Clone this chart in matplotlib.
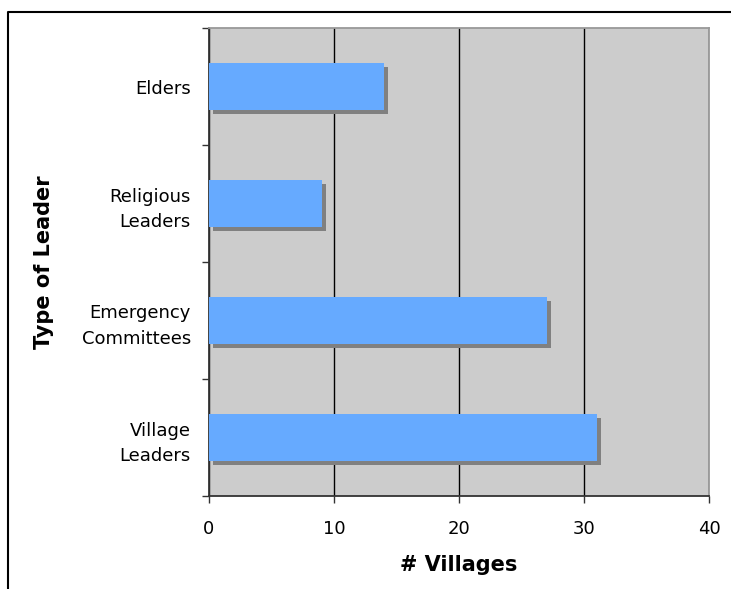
import matplotlib.pyplot as plt
import matplotlib.patheffects as pe
from matplotlib.lines import Line2D
import numpy as np

# Number of villages citing each type of leader (bottom to top)
leader_types = ['Village\nLeaders', 'Emergency\nCommittees', 'Religious\nLeaders', 'Elders']
villages = [31, 27, 9, 14]
x_ticks = [0, 10, 20, 30, 40]

bar_color = '#66aaff'
shadow_color = '#808080'
plot_bg = '#cccccc'

fig = plt.figure(figsize=(7.31, 5.89), dpi=100)
W, H = 731, 589
ax = fig.add_axes([209 / W, 1 - 496 / H, 500 / W, 468 / H])
ax.set_facecolor(plot_bg)

pos = np.arange(len(leader_types))
bars = ax.barh(pos, villages, height=0.4, color=bar_color, zorder=3)
for b in bars:
    b.set_path_effects([pe.withSimplePatchShadow(offset=(3, -3), shadow_rgbFace=shadow_color,
                                                 alpha=1.0), pe.Normal()])

ax.set_xlim(0, 40)
ax.set_ylim(-0.5, len(leader_types) - 0.5)
ax.set_xticks(x_ticks)
ax.set_xticklabels([str(t) for t in x_ticks])

# tick marks on category boundaries, labels on category centres
ax.set_yticks(np.arange(-0.5, len(leader_types), 1.0))
ax.set_yticklabels([])
ax.set_yticks(pos, minor=True)
ax.set_yticklabels(leader_types, minor=True, ha='right', linespacing=1.55)
ax.tick_params(axis='y', which='minor', length=0, pad=13, labelsize=13)
ax.tick_params(axis='y', which='major', length=5, width=1, color='#333333')
ax.tick_params(axis='x', length=5, width=1, pad=12, labelsize=13, color='#333333')

ax.grid(axis='x', color='black', linewidth=1)
ax.set_axisbelow(True)

for side in ['left', 'bottom']:
    ax.spines[side].set_color('#333333')
    ax.spines[side].set_linewidth(1.3)
for side in ['top', 'right']:
    ax.spines[side].set_color('#999999')
    ax.spines[side].set_linewidth(1.3)

ax.set_xlabel('# Villages', fontsize=15, fontweight='bold')
ax.set_ylabel('Type of Leader', fontsize=15, fontweight='bold')
ax.xaxis.set_label_coords(0.5, -0.127)
ax.yaxis.set_label_coords(-0.310, 0.5)

# outer chart frame
fig.add_artist(Line2D([8 / W, 8 / W, 1.0], [0.0, 1 - 12 / H, 1 - 12 / H],
                      transform=fig.transFigure, color='black', linewidth=1.5))

fig.savefig('out.png', dpi=100)
